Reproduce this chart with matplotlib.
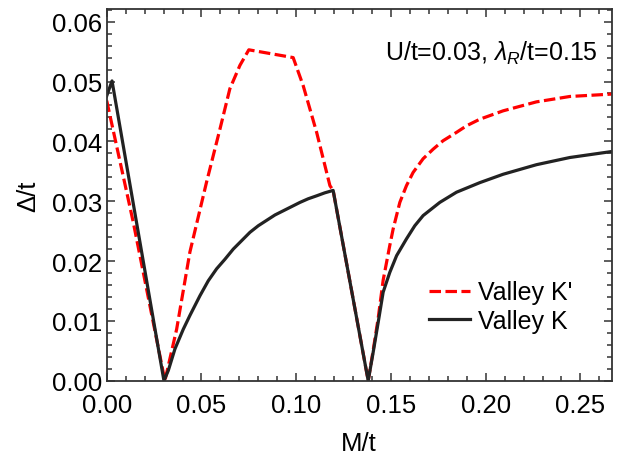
#!/usr/bin/env python3
# valley gap vs M/t

import numpy as np
import matplotlib

matplotlib.use("Agg")
import matplotlib.pyplot as plt
from matplotlib.ticker import MultipleLocator

plt.rcParams["font.family"] = ["Liberation Sans", "DejaVu Sans"]
plt.rcParams["mathtext.fontset"] = "custom"
plt.rcParams["mathtext.rm"] = "Liberation Sans"
plt.rcParams["mathtext.it"] = "Liberation Sans:italic"

# Valley K (solid black)
m_k = [0.0, 0.0028, 0.0302, 0.0325, 0.036, 0.0404, 0.0439, 0.0492, 0.0536,
       0.058, 0.0624, 0.0668, 0.0712, 0.0756, 0.08, 0.0844, 0.0888, 0.0932,
       0.0976, 0.102, 0.1063, 0.1108, 0.1151, 0.1195, 0.138, 0.1406, 0.1433,
       0.1459, 0.1494, 0.153, 0.1582, 0.1626, 0.167, 0.1714, 0.1758, 0.1846,
       0.1969, 0.2092, 0.2268, 0.2444, 0.2665]
gap_k = [0.0476, 0.0501, 0.0, 0.0017, 0.0053, 0.0086, 0.0109, 0.0142, 0.0167,
         0.0187, 0.0203, 0.0220, 0.0234, 0.0248, 0.0259, 0.0268, 0.0277,
         0.0284, 0.0291, 0.0298, 0.0304, 0.0309, 0.0314, 0.0318, 0.0, 0.0047,
         0.0098, 0.0148, 0.0181, 0.0209, 0.0237, 0.0259, 0.0276, 0.0287,
         0.0298, 0.0315, 0.0331, 0.0345, 0.0361, 0.0373, 0.0383]

# Valley K' (dashed red)
m_kp = [0.0, 0.014, 0.0307, 0.0369, 0.0439, 0.0527, 0.0598, 0.065, 0.0703,
        0.0750, 0.0984, 0.1037, 0.1108, 0.1178, 0.1195, 0.138, 0.1406, 0.1433,
        0.1459, 0.1494, 0.1512, 0.1547, 0.1582, 0.1617, 0.167, 0.1723,
        0.1775, 0.1846, 0.1899, 0.1969, 0.2092, 0.2268, 0.2444, 0.2665]
gap_kp = [0.0468, 0.0265, 0.0, 0.0086, 0.0215, 0.0332, 0.0421, 0.0488, 0.0527,
          0.0553, 0.0540, 0.0493, 0.0415, 0.0326, 0.0318, 0.0, 0.0050, 0.0105,
          0.0168, 0.0226, 0.0254, 0.0298, 0.0326, 0.0348, 0.0371, 0.0387,
          0.0401, 0.0415, 0.0426, 0.0437, 0.0451, 0.0466, 0.0475, 0.0479]

fig = plt.figure(figsize=(6.23, 4.6), dpi=100)
ax = fig.add_axes([0.1713, 0.1702, 0.8105, 0.8078])

ax.plot(m_kp, gap_kp, color="#ff0000", lw=2.3, dashes=(3.6, 1.4),
        label="Valley K'")
ax.plot(m_k, gap_k, color="#222222", lw=2.3, label="Valley K")

ax.set_xlim(0, 0.2665)
ax.set_ylim(0, 0.0621)
ax.xaxis.set_major_locator(MultipleLocator(0.05))
ax.xaxis.set_minor_locator(MultipleLocator(0.01))
ax.yaxis.set_major_locator(MultipleLocator(0.01))
ax.yaxis.set_minor_locator(MultipleLocator(0.002))
ax.xaxis.set_major_formatter(plt.FormatStrFormatter("%.2f"))
ax.yaxis.set_major_formatter(plt.FormatStrFormatter("%.2f"))

ax.tick_params(which="both", direction="in", top=True, right=True,
               color="#333333", width=1.1)
ax.tick_params(which="major", length=6, labelsize=18.5)
ax.tick_params(which="minor", length=3.5)
ax.tick_params(axis="x", which="major", pad=9)
ax.tick_params(axis="y", which="major", pad=3.5)
for s in ax.spines.values():
    s.set_linewidth(1.3)
    s.set_color("#333333")

ax.set_xlabel("M/t", fontsize=18.5, labelpad=10)
ax.set_ylabel("Δ/t", fontsize=18.5, labelpad=8)

ax.text(0.973, 0.884, r"U/t=0.03, $\mathit{\lambda}_{\mathit{R}}$/t=0.15",
        transform=ax.transAxes, ha="right", va="center", fontsize=18)

ax.legend(loc="center left", bbox_to_anchor=(0.638, 0.1996), frameon=False,
          fontsize=18, handlelength=1.64, handletextpad=0.32,
          labelspacing=0.18, borderaxespad=0, borderpad=0)

fig.savefig("out.png", dpi=100)
